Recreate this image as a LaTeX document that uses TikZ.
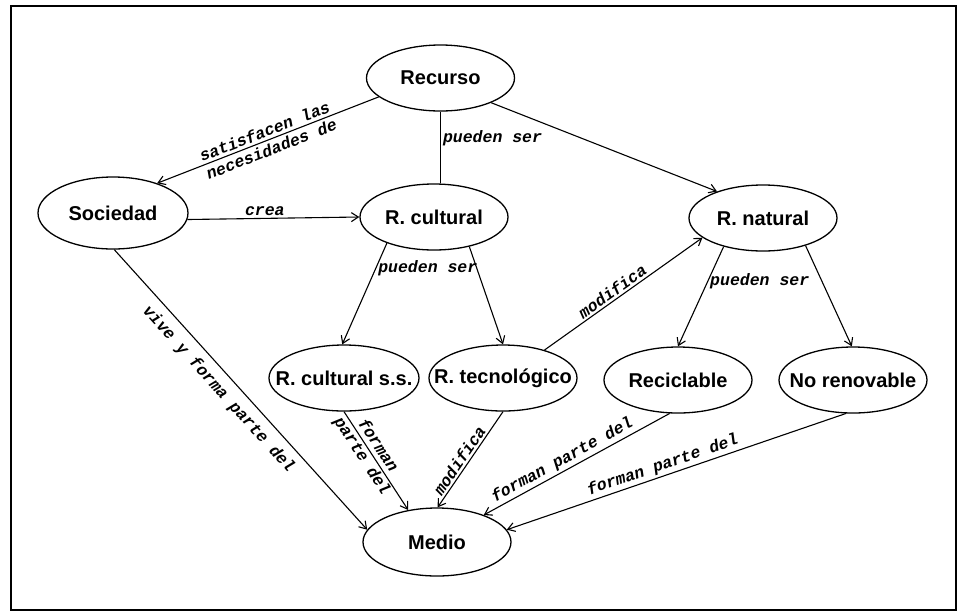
\documentclass[tikz,border=0pt]{standalone}
\usepackage{fontspec}
\setmainfont{Liberation Sans}
\newfontfamily\edgefont{Liberation Mono}
\usetikzlibrary{shapes.geometric,arrows.meta}
% zero-width text so every ellipse keeps its fixed size
\newcommand\nlbl[1]{\makebox[0pt]{#1}}

\begin{document}
\begin{tikzpicture}[x=1pt,y=-1pt,
  ent/.style={ellipse,draw,line width=1.3pt,inner sep=0pt,
    minimum width=148pt,minimum height=66pt,
    font=\fontsize{20}{23}\selectfont\bfseries},
  rel/.style={draw,line width=1.1pt},
  arr/.style={rel,-{Straight Barb[length=7pt,width=9pt,line width=1.1pt]}},
  lbl/.style={font=\edgefont\fontsize{16.5}{19}\selectfont\bfseries\itshape,inner sep=2pt},
]
\useasboundingbox (0,0) rectangle (963,614);
\draw[line width=1.6pt] (11,6) rectangle (956,610);

% concepts
\node[ent] (rec) at (440.5,78) {\nlbl{Recurso}};
\node[ent,minimum width=150pt,minimum height=72pt] (soc) at (113,213) {\nlbl{Sociedad}};
\node[ent] (rc) at (434,217) {\nlbl{R. cultural}};
\node[ent] (rn) at (763,218) {\nlbl{R. natural}};
\node[ent,minimum width=150pt] (rcs) at (344,378) {\nlbl{R. cultural s.s.}};
\node[ent] (rt) at (503,378) {\nlbl{R. tecnológico}};
\node[ent] (rcl) at (678,380) {\nlbl{Reciclable}};
\node[ent] (nr) at (853,380) {\nlbl{No renovable}};
\node[ent,minimum height=68pt] (med) at (437,542) {\nlbl{Medio}};

% relations
\draw[arr] (rec.197) -- node[lbl,sloped,align=center,pos=0.5]{satisfacen las\\necesidades de} (soc.34);
\draw[rel,line width=1pt] (rec.270) -- node[lbl,right,pos=0.37]{pueden ser} (rec.270 |- rc.north);
\draw[arr] (rec.334) -- (rn.150);
\draw[arr] (soc.-5) -- node[lbl,above,pos=0.45]{crea} (rc.180);
\draw[arr] (soc.272) -- node[lbl,sloped,below,inner sep=8pt,pos=0.46]{vive y forma parte del} (med.170);
\draw[arr] (rc.209) -- node[lbl,right,pos=0.25]{pueden ser} (rcs.93);
\draw[arr] (rc.320) -- (rt.90);
\draw[arr] (rt.34) -- node[lbl,sloped,above,pos=0.46]{modifica} (rn.198);
\draw[arr] (rn.216) -- node[lbl,right,pos=0.35]{pueden ser} (rcl.90);
\draw[arr] (rn.327) -- (nr.92);
\draw[arr] (rcs.270) -- node[lbl,sloped,align=center,pos=0.4]{forman\\parte del} (med.132);
\draw[arr] (rt.270) -- node[lbl,sloped,above,pos=0.56]{modifica} (med.89);
\draw[arr] (rcl.256) -- node[lbl,sloped,above,pos=0.55]{forman parte del} (med.30);
\draw[arr] (nr.258) -- node[lbl,sloped,above,pos=0.53]{forman parte del} (med.10);
\end{tikzpicture}
\end{document}
